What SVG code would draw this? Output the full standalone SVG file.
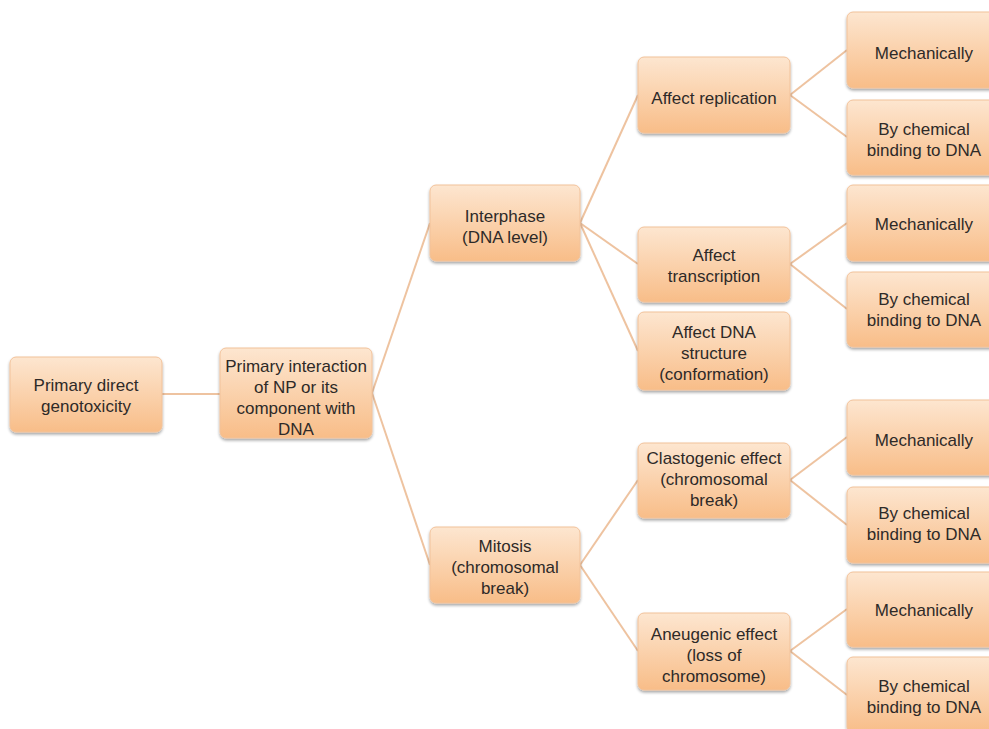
<svg xmlns="http://www.w3.org/2000/svg" width="989" height="729" viewBox="0 0 989 729">
<defs>
<linearGradient id="g" x1="0" y1="0" x2="0" y2="1">
<stop offset="0" stop-color="#fde6d0"/>
<stop offset="1" stop-color="#f8bd88"/>
</linearGradient>
<filter id="sh" x="-10%" y="-10%" width="120%" height="130%">
<feGaussianBlur in="SourceAlpha" stdDeviation="1.5"/>
<feOffset dy="2" result="b"/>
<feComponentTransfer><feFuncA type="linear" slope="0.35"/></feComponentTransfer>
<feMerge><feMergeNode/><feMergeNode in="SourceGraphic"/></feMerge>
</filter>
</defs>
<style>
.box{fill:url(#g);stroke:#f2c29a;stroke-width:1;filter:url(#sh)}
.t{font-family:"Liberation Sans",Arial,sans-serif;font-size:17px;fill:#2e2a28;text-anchor:middle}
.c{stroke:#eec3a0;stroke-width:2;fill:none}
</style>
<rect width="989" height="729" fill="#ffffff"/>
<g id="connectors">
<line class="c" x1="162" y1="394" x2="220" y2="394"/>
<line class="c" x1="372" y1="393" x2="430" y2="223"/>
<line class="c" x1="372" y1="393" x2="430" y2="565"/>
<line class="c" x1="580" y1="223" x2="638" y2="95"/>
<line class="c" x1="580" y1="223" x2="638" y2="264"/>
<line class="c" x1="580" y1="223" x2="638" y2="351"/>
<line class="c" x1="580" y1="565" x2="638" y2="480"/>
<line class="c" x1="580" y1="565" x2="638" y2="651"/>
<line class="c" x1="790" y1="95" x2="847" y2="50"/>
<line class="c" x1="790" y1="95" x2="847" y2="137"/>
<line class="c" x1="790" y1="264" x2="847" y2="223"/>
<line class="c" x1="790" y1="264" x2="847" y2="309"/>
<line class="c" x1="790" y1="480" x2="847" y2="437"/>
<line class="c" x1="790" y1="480" x2="847" y2="525"/>
<line class="c" x1="790" y1="651" x2="847" y2="609"/>
<line class="c" x1="790" y1="651" x2="847" y2="695"/>
</g>
<g id="n-primary-direct">
<rect class="box" x="10" y="357" width="152" height="75" rx="6"/>
<text class="t" x="86" y="391">Primary direct</text>
<text class="t" x="86" y="412">genotoxicity</text>
</g>
<g id="n-primary-interaction">
<rect class="box" x="220" y="348" width="152" height="90" rx="6"/>
<text class="t" x="296" y="372">Primary interaction</text>
<text class="t" x="296" y="393">of NP or its</text>
<text class="t" x="296" y="414">component with</text>
<text class="t" x="296" y="435">DNA</text>
</g>
<g id="n-interphase">
<rect class="box" x="430" y="185" width="150" height="76" rx="6"/>
<text class="t" x="505" y="222">Interphase</text>
<text class="t" x="505" y="243">(DNA level)</text>
</g>
<g id="n-mitosis">
<rect class="box" x="430" y="527" width="150" height="76" rx="6"/>
<text class="t" x="505" y="552">Mitosis</text>
<text class="t" x="505" y="573">(chromosomal</text>
<text class="t" x="505" y="594">break)</text>
</g>
<g id="n-replication">
<rect class="box" x="638" y="57" width="152" height="76" rx="6"/>
<text class="t" x="714" y="104">Affect replication</text>
</g>
<g id="n-transcription">
<rect class="box" x="638" y="227" width="152" height="75" rx="6"/>
<text class="t" x="714" y="261">Affect</text>
<text class="t" x="714" y="282">transcription</text>
</g>
<g id="n-structure">
<rect class="box" x="638" y="312" width="152" height="78" rx="6"/>
<text class="t" x="714" y="338">Affect DNA</text>
<text class="t" x="714" y="359">structure</text>
<text class="t" x="714" y="380">(conformation)</text>
</g>
<g id="n-clastogenic">
<rect class="box" x="638" y="443" width="152" height="75" rx="6"/>
<text class="t" x="714" y="464">Clastogenic effect</text>
<text class="t" x="714" y="485">(chromosomal</text>
<text class="t" x="714" y="506">break)</text>
</g>
<g id="n-aneugenic">
<rect class="box" x="638" y="613" width="152" height="77" rx="6"/>
<text class="t" x="714" y="640">Aneugenic effect</text>
<text class="t" x="714" y="661">(loss of</text>
<text class="t" x="714" y="682">chromosome)</text>
</g>
<g id="n-mech1">
<rect class="box" x="847" y="12" width="156" height="76" rx="6"/>
<text class="t" x="924" y="59">Mechanically</text>
</g>
<g id="n-chem1">
<rect class="box" x="847" y="100" width="156" height="75" rx="6"/>
<text class="t" x="924" y="135">By chemical</text>
<text class="t" x="924" y="156">binding to DNA</text>
</g>
<g id="n-mech2">
<rect class="box" x="847" y="185" width="156" height="76" rx="6"/>
<text class="t" x="924" y="230">Mechanically</text>
</g>
<g id="n-chem2">
<rect class="box" x="847" y="272" width="156" height="75" rx="6"/>
<text class="t" x="924" y="305">By chemical</text>
<text class="t" x="924" y="326">binding to DNA</text>
</g>
<g id="n-mech3">
<rect class="box" x="847" y="400" width="156" height="75" rx="6"/>
<text class="t" x="924" y="446">Mechanically</text>
</g>
<g id="n-chem3">
<rect class="box" x="847" y="487" width="156" height="76" rx="6"/>
<text class="t" x="924" y="519">By chemical</text>
<text class="t" x="924" y="540">binding to DNA</text>
</g>
<g id="n-mech4">
<rect class="box" x="847" y="572" width="156" height="75" rx="6"/>
<text class="t" x="924" y="616">Mechanically</text>
</g>
<g id="n-chem4">
<rect class="box" x="847" y="657" width="156" height="76" rx="6"/>
<text class="t" x="924" y="692">By chemical</text>
<text class="t" x="924" y="713">binding to DNA</text>
</g>
</svg>
